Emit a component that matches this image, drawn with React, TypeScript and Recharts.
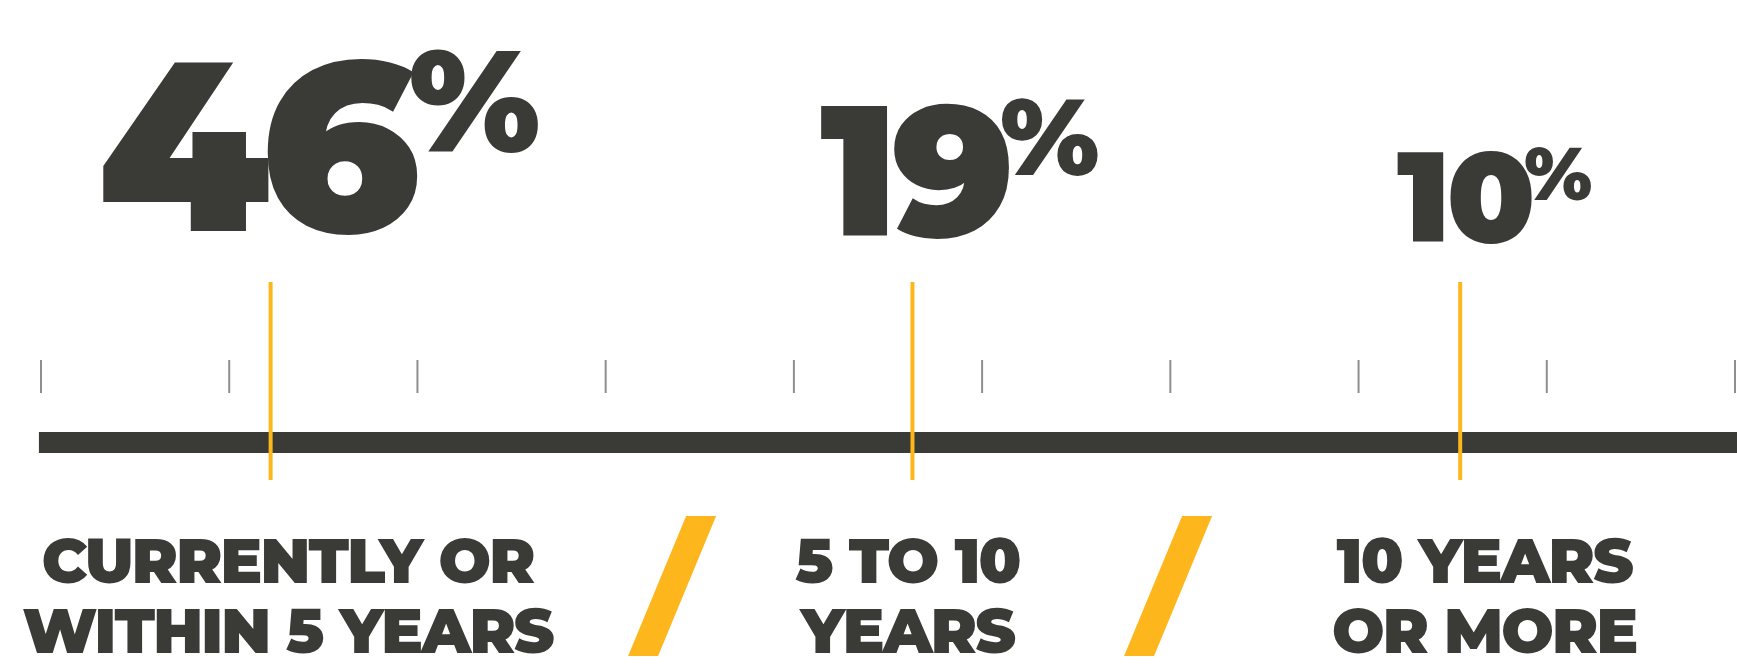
import React, { useLayoutEffect, useRef, useState } from 'react';
import { ComposedChart, XAxis, YAxis, Scatter, ReferenceLine } from 'recharts';

// ---------- data ----------
const SHARES = [46, 19, 10];
const LABEL_LINE1 = ['CURRENTLY OR', '5 TO 10', '10 YEARS'];
const LABEL_LINE2 = ['WITHIN 5 YEARS', 'YEARS', 'OR MORE'];
const MARKER_POS = [1.22, 4.63, 7.54];
const SEPARATOR_POS = [3.353, 5.988];
const TICKS = [0, 1, 2, 3, 4, 5, 6, 7, 8, 9];

// ---------- styles / layout ----------
const W = 1737;
const H = 672;
const DARK = '#3a3b37';
const YELLOW = '#fdb71c';
const TICK_GRAY = '#8e8e8e';
const FONT = "Montserrat, Inter, 'Noto Sans', sans-serif";
const NUMBER_SIZES = [241, 185, 128];
const NUMBER_BASELINES = [231, 236, 242];
const NUMBER_DX = [-16, 2, 4];
const NUMBER_TRACKING = [-0.036, -0.03, -0.03];
const PCT_DX = [8, -1, -2];
const LABEL_DX = [17, -5, 24];
const LAYOUT = {
  tickTop: 360,
  tickBottom: 393,
  barY: 442.5,
  barWidth: 21,
  markerTop: 282,
  markerBottom: 480,
  markerWidth: 4,
  labelSize: 62,
  labelTracking: -1.8,
  line1Base: 583,
  line2Base: 653,
  slashTop: 516,
  slashBottom: 656,
  slashLean: 29,
  slashHalf: 15,
  pctSizes: [143, 108, 74],
  pctRaise: [79, 61, 42],
};

const markerRows = SHARES.map((share, idx) => ({
  pos: MARKER_POS[idx],
  y: LAYOUT.markerTop,
  share,
  line1: LABEL_LINE1[idx],
  line2: LABEL_LINE2[idx],
  idx,
}));
const separatorRows = SEPARATOR_POS.map((pos) => ({ pos, y: LAYOUT.slashTop }));

function ShareMark(props: any) {
  const { cx, payload } = props;
  const i = payload.idx;
  const size = NUMBER_SIZES[i];
  const base = NUMBER_BASELINES[i];
  const ls = size * NUMBER_TRACKING[i];
  const ref = useRef<SVGTextElement>(null);
  const [w, setW] = useState(size * 1.25);
  useLayoutEffect(() => {
    if (ref.current) setW(ref.current.getComputedTextLength());
  }, [size, payload.share]);
  const nx = cx + NUMBER_DX[i];
  const lx = cx + LABEL_DX[i];
  return (
    <g>
      <text
        ref={ref}
        x={nx}
        y={base}
        textAnchor="middle"
        fontFamily={FONT}
        fontWeight={900}
        fontSize={size}
        letterSpacing={ls}
        fill={DARK}
      >
        {payload.share}
      </text>
      <text
        x={nx + w / 2 + ls / 2 - size * 0.025 + PCT_DX[i]}
        y={base - LAYOUT.pctRaise[i]}
        textAnchor="start"
        fontFamily={FONT}
        fontWeight={900}
        fontSize={LAYOUT.pctSizes[i]}
        fill={DARK}
      >
        %
      </text>
      <text
        x={lx}
        y={LAYOUT.line1Base}
        textAnchor="middle"
        fontFamily={FONT}
        fontWeight={900}
        fontSize={LAYOUT.labelSize}
        letterSpacing={LAYOUT.labelTracking}
        fill={DARK}
      >
        {payload.line1}
      </text>
      <text
        x={lx}
        y={LAYOUT.line2Base}
        textAnchor="middle"
        fontFamily={FONT}
        fontWeight={900}
        fontSize={LAYOUT.labelSize}
        letterSpacing={LAYOUT.labelTracking}
        fill={DARK}
      >
        {payload.line2}
      </text>
    </g>
  );
}

function Slash(props: any) {
  const { cx } = props;
  const t = LAYOUT.slashTop;
  const b = LAYOUT.slashBottom;
  const l = LAYOUT.slashLean;
  const h = LAYOUT.slashHalf;
  const pts = [
    [cx - h + l, t],
    [cx + h + l, t],
    [cx + h - l, b],
    [cx - h - l, b],
  ]
    .map((p) => p.join(','))
    .join(' ');
  return <polygon points={pts} fill={YELLOW} />;
}

export default function App() {
  return (
    <div style={{ position: 'absolute', left: 0, top: 0, width: W, height: H, background: '#fff' }}>
      <ComposedChart width={W} height={H} margin={{ top: 0, right: 2, bottom: 0, left: 41 }}>
        <XAxis type="number" dataKey="pos" domain={[TICKS[0], TICKS[TICKS.length - 1]]} hide />
        <YAxis type="number" dataKey="y" domain={[0, H]} reversed hide />
        {TICKS.map((t) => (
          <ReferenceLine
            key={'t' + t}
            segment={[
              { x: t, y: LAYOUT.tickTop },
              { x: t, y: LAYOUT.tickBottom },
            ]}
            stroke={TICK_GRAY}
            strokeWidth={2}
            ifOverflow="visible"
          />
        ))}
        <ReferenceLine
          segment={[
            { x: TICKS[0] - 0.011, y: LAYOUT.barY },
            { x: TICKS[TICKS.length - 1] + 0.011, y: LAYOUT.barY },
          ]}
          stroke={DARK}
          strokeWidth={LAYOUT.barWidth}
          ifOverflow="visible"
        />
        {MARKER_POS.map((p, i) => (
          <ReferenceLine
            key={'m' + i}
            segment={[
              { x: p, y: LAYOUT.markerTop },
              { x: p, y: LAYOUT.markerBottom },
            ]}
            stroke={YELLOW}
            strokeWidth={LAYOUT.markerWidth}
            ifOverflow="visible"
          />
        ))}
        <Scatter data={separatorRows} dataKey="y" shape={(p: any) => <Slash {...p} />} isAnimationActive={false} />
        <Scatter data={markerRows} dataKey="y" shape={(p: any) => <ShareMark {...p} />} isAnimationActive={false} />
      </ComposedChart>
    </div>
  );
}
